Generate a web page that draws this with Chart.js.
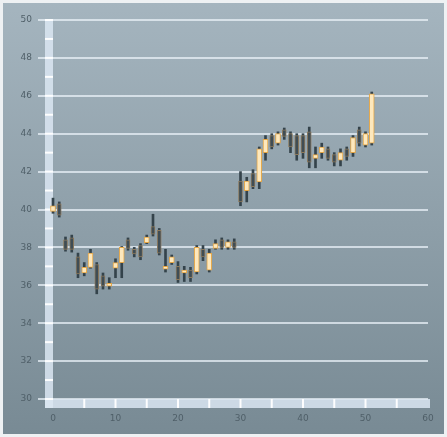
<html>
<head>
<title>Price chart</title>
<script src="https://cdn.jsdelivr.net/npm/chart.js"></script>
<style>
  body { margin: 0; padding: 0; background: #eef1f3; }
  #wrap { width: 447px; height: 437px; }
</style>
</head>
<body>
<div id="wrap"><canvas id="stockChart" width="447" height="437"></canvas></div>
<script>
  // daily quotes, one per session
  const sessions = [0,1,2,3,4,5,6,7,8,9,10,11,12,13,14,15,16,17,18,19,20,21,22,23,24,25,
                    26,27,28,29,30,31,32,33,34,35,36,37,38,39,40,41,42,43,44,45,46,47,48,49,50,51];
  const openPrices  = [39.9,40.3,38.4,38.5,37.5,36.65,36.95,37.1,36.5,35.95,36.9,37.2,38.4,37.9,38.1,38.25,39.1,38.9,36.85,37.2,37.0,36.65,36.8,36.7,37.9,36.8,
                       37.95,38.4,38.0,38.3,41.5,41.0,41.9,41.45,43.0,43.9,43.5,44.2,44.0,43.9,43.9,44.1,42.7,43.0,43.2,42.9,42.6,43.2,43.0,44.2,43.4,43.5];
  const highPrices  = [40.6,40.4,38.55,38.65,37.7,37.2,37.9,37.2,36.65,36.4,37.4,38.05,38.5,38.0,38.2,38.65,39.75,39.0,37.9,37.6,37.25,37.0,36.95,38.1,38.1,37.9,
                       38.4,38.5,38.4,38.45,42.0,41.7,42.1,43.3,43.9,44.0,44.1,44.3,44.1,44.0,44.0,44.35,43.3,43.5,43.3,43.0,43.2,43.3,43.9,44.35,44.1,46.2];
  const lowPrices   = [39.8,39.6,37.8,37.75,36.4,36.5,36.9,35.55,35.8,35.8,36.4,36.4,37.85,37.5,37.35,38.2,38.6,37.6,36.7,37.1,36.15,36.2,36.2,36.6,37.3,36.7,
                       37.9,37.9,37.9,37.9,40.2,40.4,41.1,41.1,42.6,43.2,43.4,43.7,43.0,42.6,42.7,42.2,42.2,42.7,42.6,42.3,42.3,42.6,42.8,43.35,43.3,43.4];
  const closePrices = [40.2,39.7,37.9,37.9,36.6,36.95,37.7,35.8,35.95,36.1,37.2,38.0,37.95,37.65,37.5,38.55,38.7,37.7,37.0,37.5,36.3,36.8,36.4,38.0,37.5,37.7,
                       38.2,38.0,38.3,38.0,40.4,41.5,41.2,43.2,43.7,43.3,44.0,43.85,43.3,42.9,43.0,42.5,42.9,43.3,42.7,42.5,43.0,42.8,43.8,43.5,44.0,46.1];
  const priceTicks = [30,32,34,36,38,40,42,44,46,48,50];
  const dayTicks = [0,10,20,30,40,50,60];

  const wicks = sessions.map((s, i) => ({ x: s, y: [lowPrices[i], highPrices[i]] }));
  const upBodies = [];
  const downBodies = [];
  sessions.forEach((s, i) => {
    const bar = { x: s, y: [openPrices[i], closePrices[i]] };
    if (closePrices[i] >= openPrices[i]) upBodies.push(bar); else downBodies.push(bar);
  });

  // gradient backdrop + the thick light axis rails with their notches
  const backdrop = {
    id: 'backdrop',
    beforeDraw(chart) {
      const c = chart.ctx;
      const g = c.createLinearGradient(0, 0, 0, chart.height);
      g.addColorStop(0, '#a5b5bf');
      g.addColorStop(1, '#788a94');
      c.save();
      c.fillStyle = '#eef1f3';
      c.fillRect(0, 0, chart.width, chart.height);
      c.fillStyle = g;
      c.fillRect(3, 3, chart.width - 6, chart.height - 6);
      c.restore();
    },
    beforeDatasetsDraw(chart) {
      const c = chart.ctx;
      const area = chart.chartArea;
      const xs = chart.scales.x, ys = chart.scales.y;
      c.save();
      c.fillStyle = 'rgba(218,230,242,0.85)';
      c.fillRect(area.left - 8, area.top - 1, 8, area.bottom - area.top + 10);
      c.fillRect(area.left - 8, area.bottom, area.right - area.left + 10, 9);
      c.fillStyle = 'rgba(255,255,255,0.95)';
      for (let v = 30; v <= 50; v++) {
        const py = ys.getPixelForValue(v);
        c.fillRect(area.left - 8, py - 1, 8, 2);
      }
      for (let v = 5; v <= 55; v += 5) {
        const px = xs.getPixelForValue(v);
        c.fillRect(px - 1, area.bottom, 2, 9);
      }
      c.restore();
    }
  };

  const ctx = document.getElementById('stockChart').getContext('2d');
  const stockChart = new Chart(ctx, {
    type: 'bar',
    data: {
      datasets: [
        { label: 'Range', data: wicks, backgroundColor: '#34434b', barThickness: 2, order: 3 },
        { label: 'Down', data: downBodies, backgroundColor: '#3f4d55', borderColor: '#8c7a5e',
          borderWidth: 1, borderSkipped: false, barThickness: 4, order: 2 },
        { label: 'Up', data: upBodies, backgroundColor: '#fde8bd', borderColor: '#e2a445',
          borderWidth: 1, borderSkipped: false, barThickness: 5, order: 1 }
      ]
    },
    options: {
      responsive: false,
      animation: false,
      events: [],
      layout: { padding: { left: 0, right: 19, top: 20, bottom: 0 } },
      plugins: { legend: { display: false }, tooltip: { enabled: false } },
      datasets: { bar: { grouped: false, clip: false } },
      scales: {
        x: {
          type: 'linear', min: 0, max: 60, offset: false,
          afterFit(scale) { scale.height = 38; },
          afterBuildTicks(scale) { scale.ticks = dayTicks.map(v => ({ value: v })); },
          grid: { display: true, offset: false, drawOnChartArea: false, drawTicks: true, tickLength: 11, color: 'rgba(0,0,0,0)' },
          border: { display: false },
          ticks: { color: '#4f5f68', font: { family: 'DejaVu Sans', size: 9 }, padding: 3, maxRotation: 0 }
        },
        y: {
          type: 'linear', min: 30, max: 50,
          afterFit(scale) { scale.width = 53; },
          afterBuildTicks(scale) { scale.ticks = priceTicks.map(v => ({ value: v })); },
          grid: { color: 'rgba(232,240,247,0.75)', lineWidth: 2, tickLength: 15 },
          border: { display: false },
          ticks: { color: '#4f5f68', font: { family: 'DejaVu Sans', size: 9 }, padding: 6 }
        }
      }
    },
    plugins: [backdrop]
  });
</script>
</body>
</html>
